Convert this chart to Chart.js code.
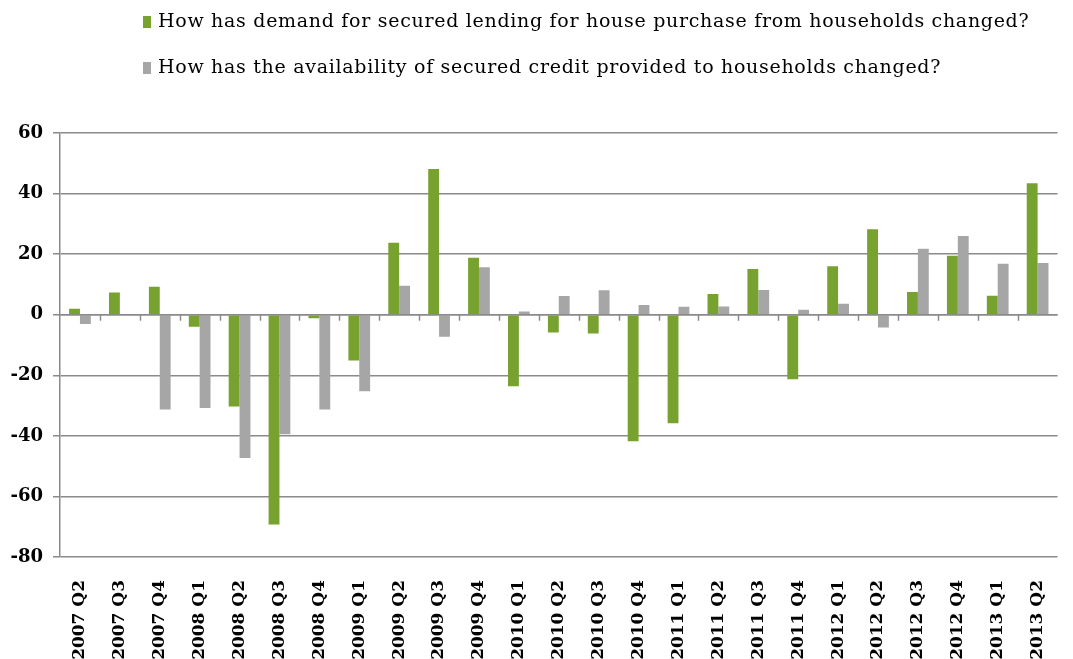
<!DOCTYPE html>
<html>
<head>
<meta charset="utf-8">
<script src="https://cdn.jsdelivr.net/npm/chart.js@4/dist/chart.umd.min.js"></script>
<style>
	html, body { margin: 0; padding: 0; background: #fff; }
	#wrap { position: relative; width: 1073px; height: 659px; }
	#legend { position: absolute; left: 143px; top: 6px; font-family: "DejaVu Serif", serif; font-size: 19px; letter-spacing: 0.7px; color: #000; }
	#legend .item { height: 46px; line-height: 28px; white-space: nowrap; }
	#legend .box { display: inline-block; width: 8px; height: 12px; margin-right: 7px; vertical-align: -1px; }
</style>
</head>
<body>
<div id="wrap">
	<div id="legend"></div>
	<canvas id="chart" width="1073" height="659"></canvas>
</div>
<script>
// Quarters on the x-axis
const quarters = [
	'2007 Q2', '2007 Q3', '2007 Q4', '2008 Q1', '2008 Q2', '2008 Q3', '2008 Q4',
	'2009 Q1', '2009 Q2', '2009 Q3', '2009 Q4', '2010 Q1', '2010 Q2', '2010 Q3',
	'2010 Q4', '2011 Q1', '2011 Q2', '2011 Q3', '2011 Q4', '2012 Q1', '2012 Q2',
	'2012 Q3', '2012 Q4', '2013 Q1', '2013 Q2'
];

const demandLabel = 'How has demand for secured lending for house purchase from households changed?';
const availabilityLabel = 'How has the availability of secured credit provided to households changed?';

// net balances
const demandValues = [
	2, 7.3, 9.2, -4, -30.3, -69.3, -1.2,
	-15.1, 23.8, 48.1, 18.8, -23.6, -5.9, -6.2,
	-41.8, -35.8, 6.8, 15.1, -21.3, 16, 28.2,
	7.5, 19.5, 6.3, 43.4
];
const availabilityValues = [
	-3.1, 0, -31.3, -30.8, -47.3, -39.5, -31.3,
	-25.3, 9.6, -7.3, 15.7, 1.1, 6.2, 8.1,
	3.2, 2.6, 2.7, 8.2, 1.6, 3.6, -4.2,
	21.8, 26, 16.8, 17.1
];

const yMin = -80;
const yMax = 60;
const yStep = 20;

const green = '#78A22F';
const gray = '#A6A6A6';
const lineGray = '#8a8a8a';
const serif = '"DejaVu Serif", serif';

// small tick marks along the zero line, between categories
const zeroTicks = {
	id: 'zeroTicks',
	afterDatasetsDraw(chart) {
		const y0 = chart.scales.y.getPixelForValue(0);
		const ctx = chart.ctx;
		ctx.save();
		ctx.strokeStyle = lineGray;
		ctx.lineWidth = 1.5;
		ctx.beginPath();
		ctx.moveTo(chart.chartArea.left, y0);
		ctx.lineTo(chart.chartArea.right, y0);
		const step = (chart.chartArea.right - chart.chartArea.left) / quarters.length;
		for (let i = 1; i < quarters.length; i++) {
			const px = Math.round(chart.chartArea.left + i * step) + 0.5;
			ctx.moveTo(px, y0);
			ctx.lineTo(px, y0 + 6);
		}
		ctx.stroke();
		ctx.restore();
	}
};

const ctx = document.getElementById('chart').getContext('2d');
const chart = new Chart(ctx, {
	type: 'bar',
	data: {
		labels: quarters,
		datasets: [{
			label: demandLabel,
			data: demandValues,
			backgroundColor: green,
			borderWidth: 0
		}, {
			label: availabilityLabel,
			data: availabilityValues,
			backgroundColor: gray,
			borderWidth: 0
		}]
	},
	options: {
		responsive: false,
		animation: false,
		layout: {
			padding: { top: 133, right: 0, bottom: 0, left: 0 }
		},
		datasets: {
			bar: {
				categoryPercentage: 0.545,
				barPercentage: 1
			}
		},
		plugins: {
			legend: { display: false },
			tooltip: { enabled: false }
		},
		scales: {
			x: {
				grid: { display: false },
				border: { display: false },
				ticks: {
					color: '#000',
					font: { family: serif, size: 17, weight: 'bold' },
					minRotation: 90,
					maxRotation: 90,
					autoSkip: false,
					padding: 15
				},
				afterFit(scale) {
					scale.height = 102;
				}
			},
			y: {
				min: yMin,
				max: yMax,
				border: { color: lineGray, width: 1.5 },
				grid: {
					color: lineGray,
					lineWidth: 1.5,
					tickLength: 7
				},
				ticks: {
					stepSize: yStep,
					color: '#000',
					padding: 10,
					font: { family: serif, size: 18, weight: 'bold' }
				},
				afterFit(scale) {
					scale.width = 60;
				}
			}
		}
	},
	plugins: [zeroTicks]
});

// legend, one entry per line, built from the datasets
const legendEl = document.getElementById('legend');
chart.data.datasets.forEach(ds => {
	const item = document.createElement('div');
	item.className = 'item';
	const box = document.createElement('span');
	box.className = 'box';
	box.style.background = ds.backgroundColor;
	item.appendChild(box);
	item.appendChild(document.createTextNode(ds.label));
	legendEl.appendChild(item);
});
</script>
</body>
</html>
